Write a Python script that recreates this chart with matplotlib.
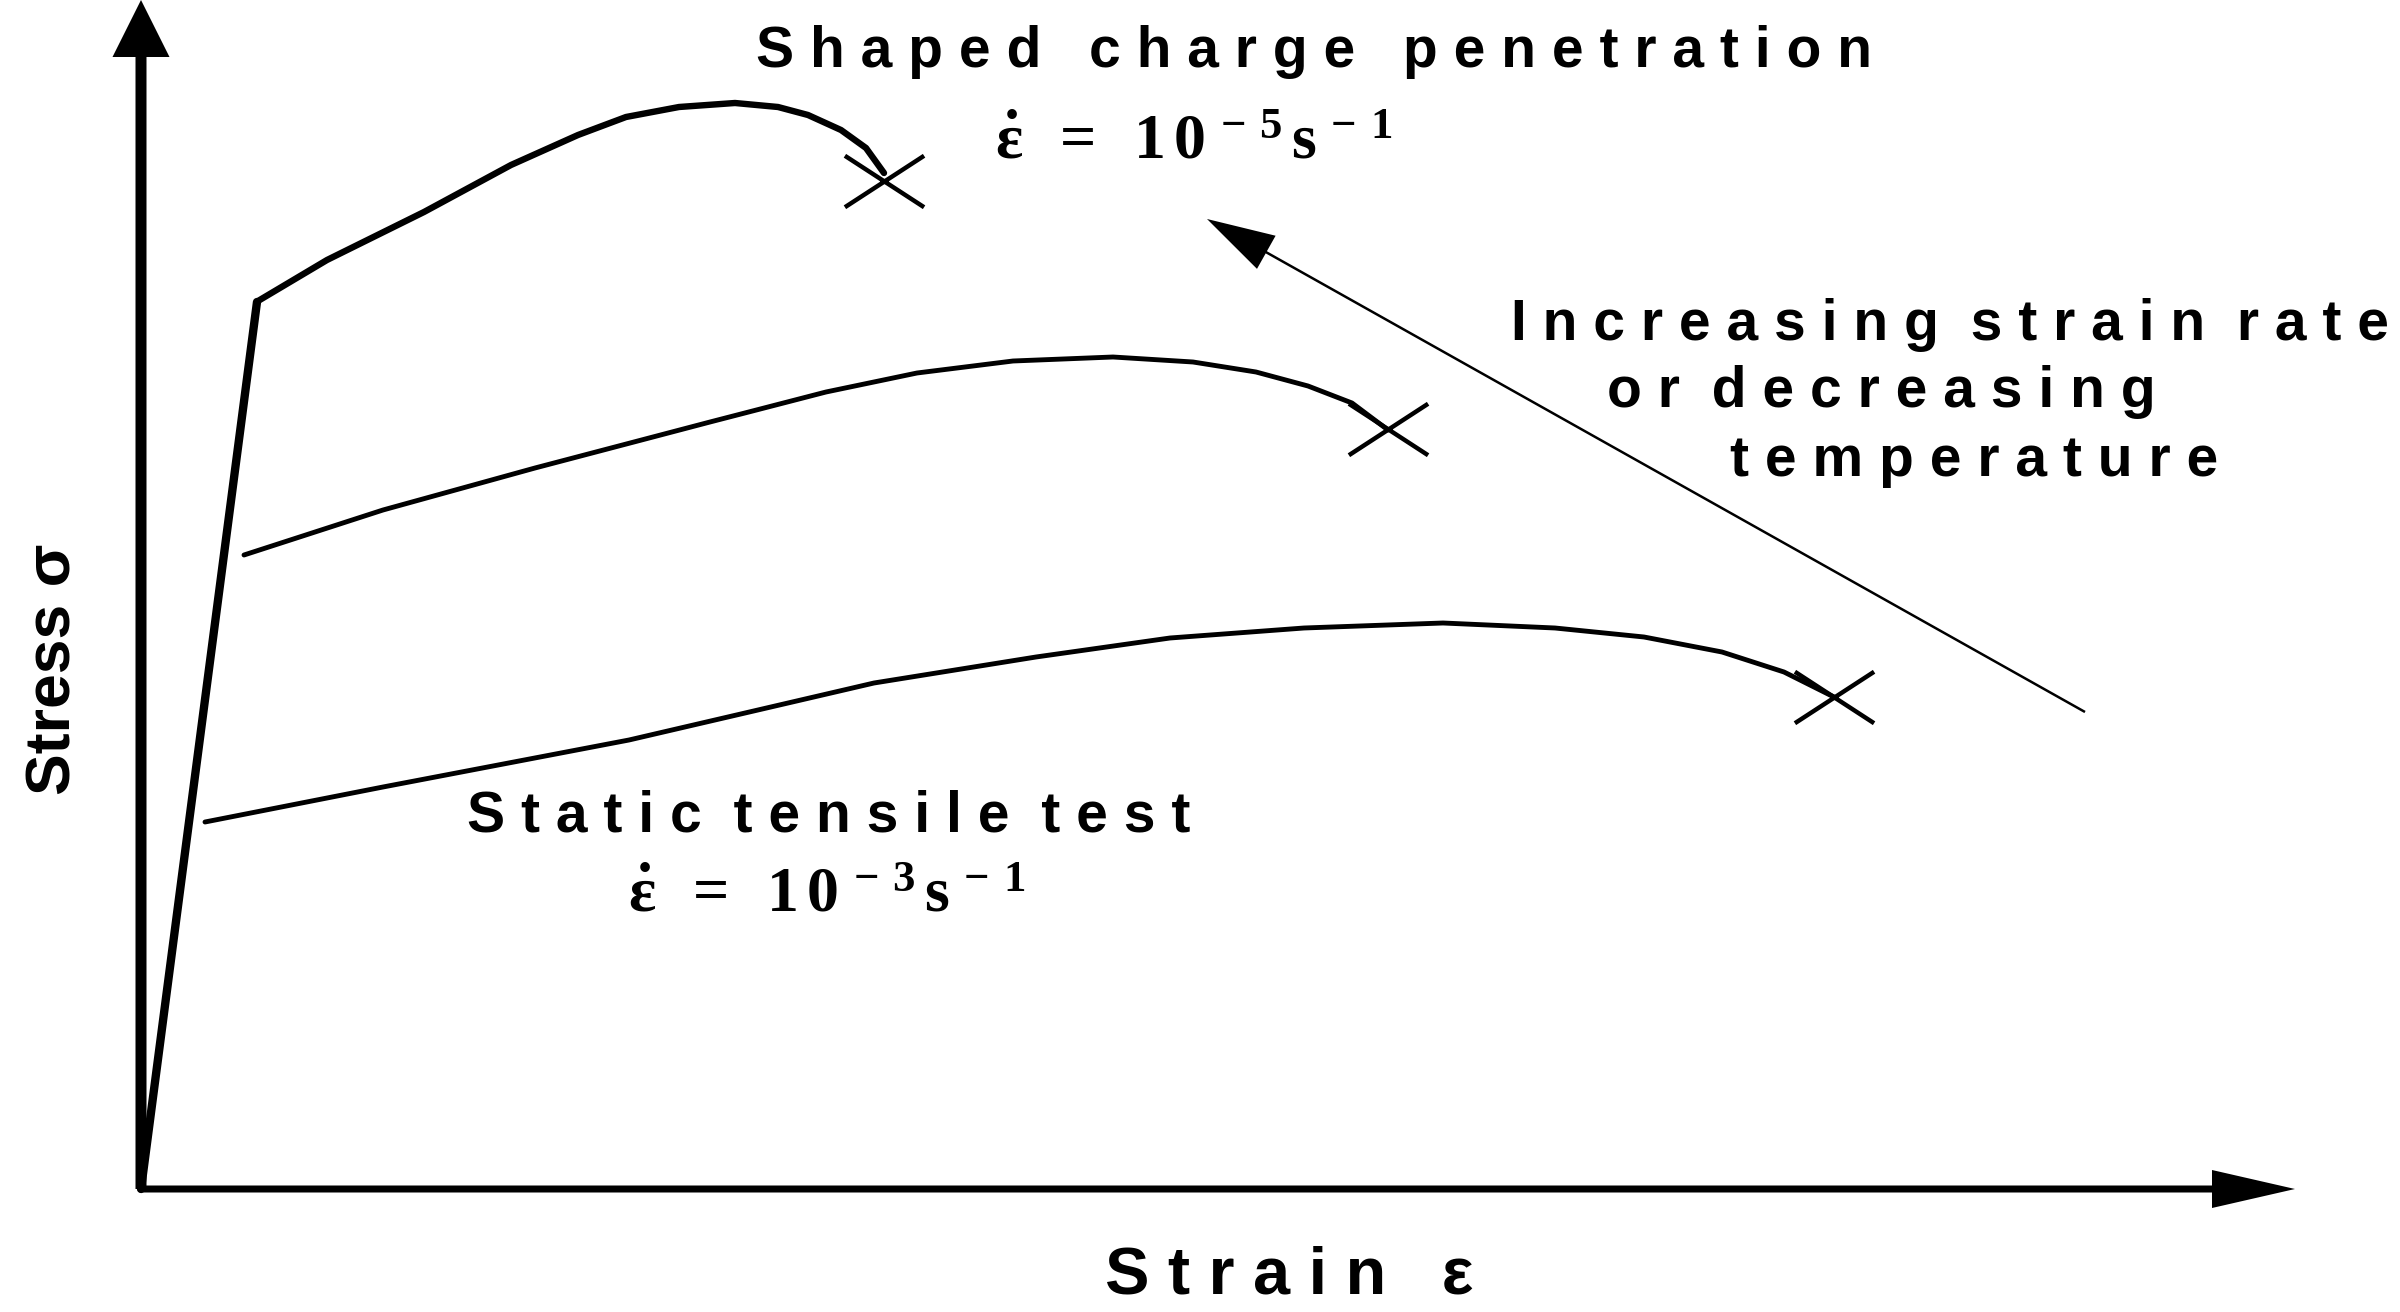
import matplotlib
matplotlib.use("Agg")
import matplotlib.pyplot as plt
from matplotlib.patches import FancyArrow
from matplotlib.path import Path

# schematic stress-strain diagram, arbitrary units (1 unit = 10 px on the canvas)
elastic_strain = [0.0, 11.6]
elastic_stress = [0.0, 88.7]

shaped_strain = [11.7, 18.6, 28.3, 37.0, 43.7, 48.5, 53.8, 59.4, 63.7, 66.7, 70.0, 72.5, 74.3]
shaped_stress = [88.8, 92.9, 97.7, 102.4, 105.4, 107.2, 108.2, 108.6, 108.2, 107.4, 105.9, 104.1, 101.6]

mid_strain = [10.3, 24.2, 39.4, 56.9, 68.5, 77.6, 87.2, 97.2, 105.2, 111.5, 116.7, 121.1, 124.7]
mid_stress = [63.4, 67.9, 72.1, 76.7, 79.7, 81.6, 82.8, 83.2, 82.7, 81.7, 80.3, 78.6, 75.9]

static_strain = [6.4, 24.2, 48.8, 73.3, 89.5, 102.9, 116.3, 130.2, 141.4, 150.3, 158.1, 164.3, 169.3]
static_stress = [36.7, 40.2, 44.9, 50.6, 53.2, 55.1, 56.1, 56.6, 56.1, 55.2, 53.7, 51.7, 49.2]

# fracture points (X marks)
fracture_strain = [74.3, 124.7, 169.3]
fracture_stress = [100.8, 76.0, 49.2]

# trend arrow
trend_tail = (194.4, 47.7)
trend_tip = (106.6, 97.0)

strain_axis_end = 215.4
stress_axis_end = 118.9

SANS = ["Liberation Sans", "DejaVu Sans"]
NARROW = ["Liberation Sans Narrow", "Liberation Sans", "DejaVu Sans"]

plt.rcParams["mathtext.fontset"] = "custom"
plt.rcParams["mathtext.rm"] = "Liberation Serif:bold"
plt.rcParams["mathtext.it"] = "Liberation Serif:bold"
plt.rcParams["mathtext.bf"] = "Liberation Serif:bold"
plt.rcParams["mathtext.default"] = "rm"


def spaced(s, gap=2):
    # letter-spaced look of the original figure
    return (" " * gap).join(" ".join(w) for w in s.split(" "))


def rate(exp):
    return r"$\dot{\varepsilon}\ \,=\ \,1\,0^{\,-\,%d}\,s^{\,-\,1}$" % exp


fig = plt.figure(figsize=(24, 13.12), dpi=100)
ax = fig.add_axes([0, 0, 1, 1])
ax.set_xlim(-14.1, 225.9)
ax.set_ylim(-12.3, 118.9)
ax.axis("off")

# axes arrows
ax.add_patch(FancyArrow(0, 0, 0, stress_axis_end, width=1.1, head_width=5.7,
                        head_length=5.7, length_includes_head=True, color="black", lw=0))
ax.add_patch(FancyArrow(0, 0, strain_axis_end, 0, width=0.7, head_width=3.8,
                        head_length=8.3, length_includes_head=True, color="black", lw=0))

# curves
kw = dict(color="black", solid_joinstyle="round", solid_capstyle="round")
ax.plot(elastic_strain, elastic_stress, lw=6.0, **kw)
ax.plot(shaped_strain, shaped_stress, lw=4.6, **kw)
ax.plot(mid_strain, mid_stress, lw=3.5, **kw)
ax.plot(static_strain, static_stress, lw=3.5, **kw)

xmark = Path([(-1, -0.65), (1, 0.65), (-1, 0.65), (1, -0.65)],
             [Path.MOVETO, Path.LINETO, Path.MOVETO, Path.LINETO])
ax.plot(fracture_strain, fracture_stress, ls="none", marker=xmark, ms=57,
        mew=3.2, mec="black")

# trend arrow
ax.add_patch(FancyArrow(trend_tail[0], trend_tail[1],
                        trend_tip[0] - trend_tail[0], trend_tip[1] - trend_tail[1],
                        width=0.25, head_width=3.8, head_length=6.8,
                        length_includes_head=True, color="black", lw=0))

# labels
tkw = dict(family=SANS, weight="bold", fontsize=41, ha="left", va="baseline")
ax.text(61.5, 112.2, spaced("Shaped charge penetration", gap=3), **tkw)
ax.text(32.6, 35.8, spaced("Static tensile test"), **tkw)
ax.text(137.0, 84.9, spaced("Increasing strain rate"), **tkw)
ax.text(146.6, 78.2, spaced("or decreasing"), **tkw)
ax.text(158.9, 71.3, spaced("tem perature", gap=1), **tkw)

ax.text(85.4, 103.1, rate(5), fontsize=46, ha="left", va="baseline")
ax.text(48.7, 27.8, rate(3), fontsize=46, ha="left", va="baseline")

ax.text(-8.7, 52.0, "Stress σ", family=NARROW, weight="bold", fontsize=45,
        rotation=90, ha="center", va="center")
ax.text(96.4, -10.4, spaced("Strain ε", gap=3), family=NARROW, weight="bold",
        fontsize=48, ha="left", va="baseline")

fig.savefig("out.png", dpi=100, facecolor="white")
